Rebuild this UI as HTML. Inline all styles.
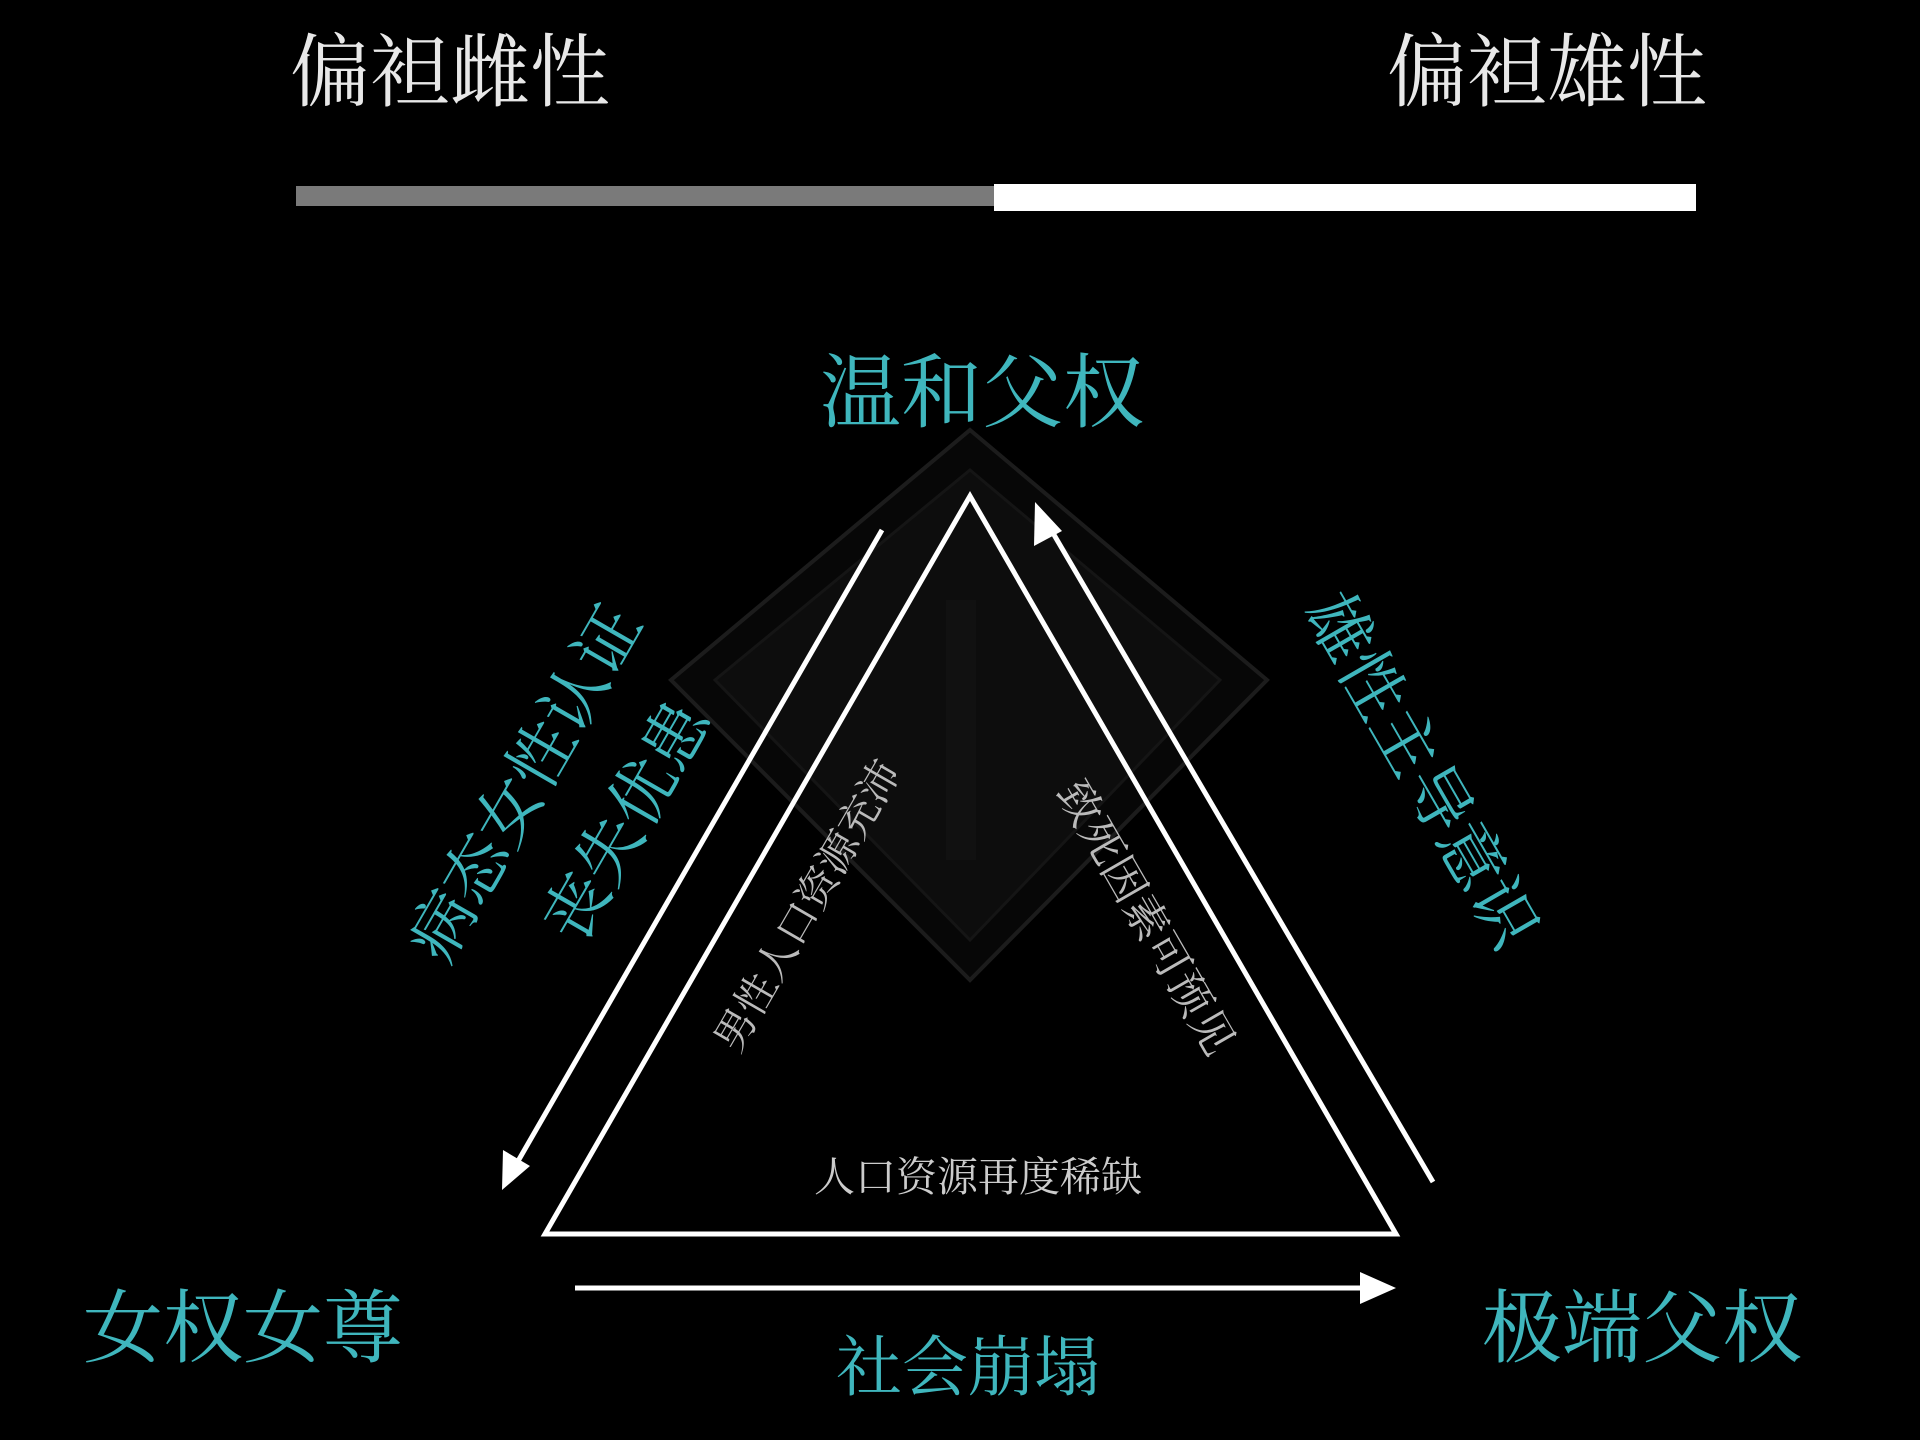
<!DOCTYPE html>
<html><head><meta charset="utf-8"><style>
html,body{margin:0;padding:0;background:#000;}
body{width:1920px;height:1440px;position:relative;overflow:hidden;font-family:"Liberation Serif","Noto Serif CJK SC","Noto Sans CJK SC",serif;}
.t{position:absolute;white-space:nowrap;line-height:1;}
.teal{color:#3fb6bd;}
.rot{position:absolute;white-space:nowrap;line-height:1;transform:translate(-50%,-50%);}
</style></head><body>
<svg width="1920" height="1440" style="position:absolute;left:0;top:0">
  <rect x="296" y="186" width="698" height="20" fill="#7a7a7a"/>
  <rect x="994" y="184" width="702" height="27" fill="#fff"/>
  <polygon points="970,430 1267,680 970,980 671,680" fill="#070707" stroke="#1c1c1c" stroke-width="4"/>
  <polygon points="970,470 1220,680 970,940 715,680" fill="#0d0d0d" stroke="#151515" stroke-width="3"/>
  <rect x="946" y="600" width="30" height="260" fill="#111"/>
  <polygon points="545,1234 970,496 1396,1234" fill="none" stroke="#fff" stroke-width="5"/>
  <line x1="882" y1="530" x2="510" y2="1175" stroke="#fff" stroke-width="5"/>
  <polygon points="502,1190 503,1150 530,1166" fill="#fff"/>
  <line x1="1433" y1="1182" x2="1043" y2="516" stroke="#fff" stroke-width="5"/>
  <polygon points="1035,502 1062,531 1034,546" fill="#fff"/>
  <line x1="575" y1="1288" x2="1370" y2="1288" stroke="#fff" stroke-width="5"/>
  <polygon points="1396,1288 1360,1272 1360,1304" fill="#fff"/>
</svg>
<div class="t" style="left:290px;top:34px;font-size:80px;color:#e8e8e8">偏袒雌性</div>
<div class="t" style="left:1387px;top:34px;font-size:80px;color:#e8e8e8">偏袒雄性</div>
<div class="t teal" style="left:820px;top:354px;font-size:81px">温和父权</div>
<div class="t teal" style="left:83px;top:1290px;font-size:80px">女权女尊</div>
<div class="t teal" style="left:1482px;top:1290px;font-size:80px">极端父权</div>
<div class="t teal" style="left:836px;top:1336px;font-size:66px">社会崩塌</div>
<div class="rot teal" style="left:527px;top:784px;font-size:66px;transform:translate(-50%,-50%) rotate(-60deg)">病态女性认证</div>
<div class="rot teal" style="left:628px;top:822px;font-size:66px;transform:translate(-50%,-50%) rotate(-60deg)">丧失优患</div>
<div class="rot teal" style="left:1420px;top:771px;font-size:66px;transform:translate(-50%,-50%) rotate(60deg)">雄性主导意识</div>
<div class="rot" style="left:808px;top:906px;font-size:41px;color:#bbb;transform:translate(-50%,-50%) rotate(-60deg)">男性人口资源充沛</div>
<div class="rot" style="left:1145px;top:918px;font-size:44px;color:#bbb;transform:translate(-50%,-50%) rotate(60deg)">致死因素可预见</div>
<div class="t" style="left:814px;top:1157px;font-size:41px;color:#ccc">人口资源再度稀缺</div>
</body></html>
